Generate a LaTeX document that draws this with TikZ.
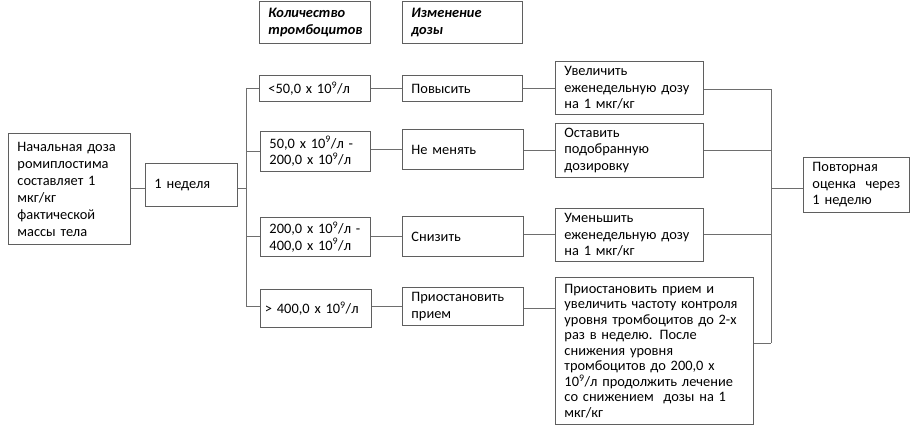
\documentclass[tikz,border=0pt]{standalone}
\usepackage{fontspec}
\setmainfont{Carlito}
\definecolor{boxline}{RGB}{95,95,95}
\definecolor{conline}{RGB}{110,110,110}
\begin{document}
\begin{tikzpicture}[x=1pt,y=-1pt,
  box/.style={draw=boxline, line width=0.9pt, anchor=north west, align=left,
    inner xsep=9pt, inner ysep=2pt, font=\fontsize{14.4}{16.5}\selectfont},
  con/.style={draw=conline, line width=0.9pt}]
\useasboundingbox (0,0) rectangle (913,438);
\node[box, minimum width=122pt, minimum height=111pt, text width=104pt,
  font=\fontsize{14.4}{17}\selectfont] (start) at (8,133)
  {Начальная доза\\ромиплостима\\составляет 1\\мкг/кг\\фактической\\массы тела};
\node[box, minimum width=92pt, minimum height=43pt, text width=74pt] (week) at (145,163) {1 неделя};
\node[box, minimum width=111pt, minimum height=42pt, text width=93pt] (h1) at (259,1)
  {\bfseries\itshape Количество\\\bfseries\itshape тромбоцитов};
\node[box, minimum width=120pt, minimum height=42pt, text width=102pt] (h2) at (402,1)
  {\bfseries\itshape Изменение\\\bfseries\itshape дозы};
\node[box, minimum width=111pt, minimum height=26pt, text width=93pt] (c1) at (259,75)
  {<50,0 x 10\textsuperscript{9}/л};
\node[box, minimum width=120pt, minimum height=26pt, text width=102pt] (d1) at (402,75) {Повысить};
\node[box, minimum width=110pt, minimum height=40pt, text width=92pt] (c2) at (260,131)
  {50,0 x 10\textsuperscript{9}/л -\\200,0 x 10\textsuperscript{9}/л};
\node[box, minimum width=121pt, minimum height=40pt, text width=103pt] (d2) at (402,129) {Не менять};
\node[box, minimum width=110pt, minimum height=39pt, text width=92pt] (c3) at (260,217)
  {200,0 x 10\textsuperscript{9}/л -\\400,0 x 10\textsuperscript{9}/л};
\node[box, minimum width=121pt, minimum height=40pt, text width=103pt] (d3) at (402,216) {Снизить};
\node[box, minimum width=110pt, minimum height=38pt, text width=102pt, inner xsep=4.5pt] (c4) at (260,289)
  {> 400,0 x 10\textsuperscript{9}/л};
\node[box, minimum width=121pt, minimum height=38pt, text width=103pt] (d4) at (402,287)
  {Приостановить\\прием};
\node[box, minimum width=148pt, minimum height=53pt, text width=130pt] (a1) at (555,61)
  {Увеличить\\еженедельную дозу\\на 1 мкг/кг};
\node[box, minimum width=148pt, minimum height=54pt, text width=130pt] (a2) at (555,123)
  {Оставить\\подобранную\\дозировку};
\node[box, minimum width=148pt, minimum height=53pt, text width=130pt] (a3) at (555,208)
  {Уменьшить\\еженедельную дозу\\на 1 мкг/кг};
\node[box, minimum width=198pt, minimum height=147pt, text width=180pt,
  font=\fontsize{14.4}{15.5}\selectfont] (a4) at (555,277)
  {Приостановить прием и\\увеличить частоту контроля\\уровня тромбоцитов до 2-х\\раз в неделю. После\\снижения уровня\\тромбоцитов до 200,0 x\\10\textsuperscript{9}/л продолжить лечение\\со снижением\ \ дозы на 1\\мкг/кг};
\node[box, minimum width=106pt, minimum height=55pt, text width=88pt] (r) at (803,157)
  {Повторная\\оценка\ \ через\\1 неделю};
% coordinates
\coordinate (lbus) at (246,188);
\coordinate (lbt) at (246,88);
\coordinate (lbb) at (246,306);
\coordinate (rbus) at (771,188);
\coordinate (rbt) at (771,89);
\coordinate (rbb) at (771,343);
\coordinate (d4y) at (540,308);
% connectors
\draw[con] (start.east |- lbus) -- (week.west |- lbus);
\draw[con] (week.east |- lbus) -- (lbus);
\draw[con] (lbt) -- (lbb);
\draw[con] (lbt) -- (c1.west |- lbt);
\draw[con] (c2.west -| lbt) -- (c2.west);
\draw[con] (c3.west -| lbt) -- (c3.west);
\draw[con] (lbb) -- (c4.west |- lbb);
\draw[con] (c1.east) -- (d1.west |- c1.east);
\draw[con] (c2.east |- d2.west) -- (d2.west);
\draw[con] (c3.east |- d3.west) -- (d3.west);
\draw[con] (c4.east |- d4.west) -- (d4.west);
\draw[con] (d1.east) -- (a1.west |- d1.east);
\draw[con] (d2.east |- a2.west) -- (a2.west);
\draw[con] (d3.east |- a3.west) -- (a3.west);
\draw[con] (d4.east |- d4y) -- (a4.west |- d4y);
\draw[con] (rbt) -- (rbb);
\draw[con] (a1.east |- rbt) -- (rbt);
\draw[con] (a2.east) -- (a2.east -| rbus);
\draw[con] (a3.east) -- (a3.east -| rbus);
\draw[con] (a4.east |- rbb) -- (rbb);
\draw[con] (rbus) -- (r.west |- rbus);
\end{tikzpicture}
\end{document}
